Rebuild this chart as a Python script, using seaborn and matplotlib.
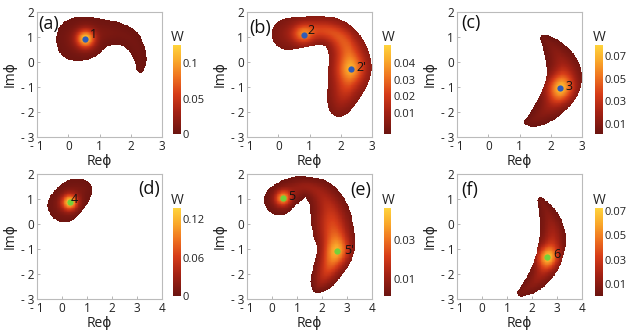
import numpy as np
import matplotlib
matplotlib.use("Agg")
import matplotlib.pyplot as plt
import seaborn as sns
from matplotlib.colors import LinearSegmentedColormap
from matplotlib.transforms import Affine2D

sns.set_style("white")
plt.rcParams['font.family'] = ['Open Sans', 'DejaVu Sans']

# ---------------- data ----------------
panel_tags = ["(a)", "(b)", "(c)", "(d)", "(e)", "(f)"]

# ridge (centre line) of each distribution: x, y, half width, ridge value
a_sx = [0.30, 0.55, 1.00, 1.56, 2.00, 2.25, 2.33, 2.30]
a_sy = [0.90, 0.95, 1.15, 1.18, 0.95, 0.45, 0.00, -0.28]
a_sw = [0.70, 0.68, 0.47, 0.35, 0.31, 0.25, 0.20, 0.13]
a_sv = [0.010, 0.014, 0.010, 0.006, 0.005, 0.004, 0.003, 0.003]
a_px, a_py, a_pa, a_ps = [0.55], [0.93], [0.105], [0.20]

b_sx = [0.30, 0.80, 1.40, 1.90, 2.20, 2.30, 2.30, 2.20, 2.05, 1.95]
b_sy = [1.12, 1.20, 1.30, 1.10, 0.60, 0.00, -0.35, -0.90, -1.40, -1.75]
b_sw = [0.50, 0.50, 0.45, 0.50, 0.60, 0.68, 0.70, 0.60, 0.50, 0.35]
b_sv = [0.005, 0.016, 0.022, 0.025, 0.027, 0.028, 0.028, 0.022, 0.012, 0.006]
b_px, b_py, b_pa, b_ps = [0.80, 2.32], [1.10, -0.27], [0.020, 0.014], [0.22, 0.28]

c_sx = [1.78, 2.05, 2.35, 2.45, 2.38, 2.15, 1.80, 1.45, 1.25]
c_sy = [0.95, 0.60, 0.00, -0.50, -1.00, -1.50, -2.00, -2.35, -2.40]
c_sw = [0.12, 0.30, 0.50, 0.57, 0.58, 0.50, 0.38, 0.22, 0.10]
c_sv = [0.004, 0.007, 0.015, 0.025, 0.032, 0.020, 0.010, 0.005, 0.003]
c_px, c_py, c_pa, c_ps = [2.30], [-1.05], [0.042], [0.30]

d_sx = [0.10, 0.45, 0.80]
d_sy = [0.75, 1.15, 1.35]
d_sw = [0.68, 0.68, 0.42]
d_sv = [0.012, 0.012, 0.008]
d_px, d_py, d_pa, d_ps = [0.31], [0.87], [0.120], [0.22]

e_sx = [0.30, 0.80, 1.40, 2.00, 2.30, 2.40, 2.55, 2.55, 2.30, 2.00, 1.80]
e_sy = [0.97, 1.35, 1.55, 1.20, 0.60, 0.00, -0.70, -1.10, -1.70, -2.25, -2.55]
e_sw = [0.62, 0.55, 0.35, 0.60, 0.75, 0.85, 0.78, 0.75, 0.62, 0.48, 0.20]
e_sv = [0.005, 0.008, 0.009, 0.011, 0.016, 0.022, 0.028, 0.030, 0.024, 0.012, 0.005]
e_px, e_py, e_pa, e_ps = [0.44, 2.61], [1.03, -1.08], [0.030, 0.010], [0.22, 0.35]

f_sx = [2.35, 2.70, 2.85, 2.75, 2.45, 2.00, 1.55]
f_sy = [0.95, 0.30, -0.40, -1.20, -1.90, -2.45, -2.75]
f_sw = [0.12, 0.40, 0.52, 0.55, 0.48, 0.35, 0.15]
f_sv = [0.004, 0.008, 0.018, 0.028, 0.018, 0.008, 0.004]
f_px, f_py, f_pa, f_ps = [2.61], [-1.33], [0.040], [0.30]

# marked points and their labels
a_mx, a_my, a_ml = [0.55], [0.92], ["1"]
b_mx, b_my, b_ml = [0.81, 2.34], [1.08, -0.27], ["2", "2'"]
c_mx, c_my, c_ml = [2.31], [-1.04], ["3"]
d_mx, d_my, d_ml = [0.31], [0.87], ["4"]
e_mx, e_my, e_ml = [0.44, 2.61], [1.03, -1.08], ["5", "5'"]
f_mx, f_my, f_ml = [2.61], [-1.33], ["6"]

# colour scale ranges and colour-bar ticks
vmins = [0.0, -0.0025, 0.001, 0.0, 0.0013, 0.0]
vmaxs = [0.126, 0.0507, 0.080, 0.138, 0.0463, 0.0725]
cbar_ticks = [[0, 0.05, 0.1], [0.01, 0.02, 0.03, 0.04], [0.01, 0.03, 0.05, 0.07],
              [0, 0.06, 0.12], [0.01, 0.03], [0.01, 0.03, 0.05, 0.07]]
cbar_labels = [["0", "0.05", "0.1"], ["0.01", "0.02", "0.03", "0.04"],
               ["0.01", "0.03", "0.05", "0.07"], ["0", "0.06", "0.12"],
               ["0.01", "0.03"], ["0.01", "0.03", "0.05", "0.07"]]

top_xticks = [-1, 0, 1, 2, 3]
top_xlabels = ["- 1", "0", "1", "2", "3"]
bot_xticks = [-1, 0, 1, 2, 3, 4]
bot_xlabels = ["- 1", "0", "1", "2", "3", "4"]
yticks = [-3, -2, -1, 0, 1, 2]
ylabels = ["- 3", "- 2", "- 1", "0", "1", "2"]

# ---------------- helpers ----------------
def corner_cut(cols, iters=3):
    """Chaikin corner cutting of the centre line (endpoints kept) for smooth outlines."""
    P = np.column_stack(cols)
    for _ in range(iters):
        if len(P) < 3:
            break
        q = 0.75 * P[:-1] + 0.25 * P[1:]
        r = 0.25 * P[:-1] + 0.75 * P[1:]
        mid = np.empty((2 * len(q), P.shape[1]))
        mid[0::2] = q
        mid[1::2] = r
        P = np.vstack([P[:1], mid, P[-1:]])
    return [P[:, j] for j in range(P.shape[1])]


def build_field(xmin, xmax, ymin, ymax, step, yscale, sx, sy, sw, sv, px, py, pa, ps):
    nx = int(round((xmax - xmin) / step))
    ny = int(round((ymax - ymin) / step))
    xc = xmin + (np.arange(nx) + 0.5) * step
    yc = ymax - (np.arange(ny) + 0.5) * step
    X, Y = np.meshgrid(xc, yc)
    Ys = Y * yscale
    sx, sys_, sw, sv = corner_cut([np.asarray(sx, float), np.asarray(sy, float) * yscale,
                                   np.asarray(sw, float), np.asarray(sv, float)])
    inside = np.zeros(X.shape, bool)
    ridge = np.zeros(X.shape)
    for k in range(len(sx) - 1):
        x0, y0, x1, y1 = sx[k], sys_[k], sx[k + 1], sys_[k + 1]
        dx, dy = x1 - x0, y1 - y0
        L2 = max(dx * dx + dy * dy, 1e-9)
        t = np.clip(((X - x0) * dx + (Ys - y0) * dy) / L2, 0, 1)
        d = np.hypot(X - x0 - t * dx, Ys - y0 - t * dy)
        w = sw[k] + (sw[k + 1] - sw[k]) * t
        v = sv[k] + (sv[k + 1] - sv[k]) * t
        ins = d < w
        inside |= ins
        ridge = np.maximum(ridge, np.where(ins, v * np.exp(-2.0 * (d / w) ** 2), 0))
    peaks = np.zeros(X.shape)
    for x_, y_, a_, s_ in zip(px, py, pa, ps):
        peaks += a_ * np.exp(-((X - x_) ** 2 + (Ys - y_ * yscale) ** 2) / (2 * s_ ** 2))
    W = 0.001 + ridge + peaks
    return W, ~inside


cmap = LinearSegmentedColormap.from_list(
    "wig", [(0.0, "#6a1410"), (0.25, "#a52214"), (0.45, "#d63c18"),
            (0.65, "#ef7420"), (0.82, "#f9a72a"), (1.0, "#ffd43c")])

fig = plt.figure(figsize=(6.26, 3.34), dpi=100)
W_, H_ = 626.0, 334.0

spines = [(a_sx, a_sy, a_sw, a_sv, a_px, a_py, a_pa, a_ps),
          (b_sx, b_sy, b_sw, b_sv, b_px, b_py, b_pa, b_ps),
          (c_sx, c_sy, c_sw, c_sv, c_px, c_py, c_pa, c_ps),
          (d_sx, d_sy, d_sw, d_sv, d_px, d_py, d_pa, d_ps),
          (e_sx, e_sy, e_sw, e_sv, e_px, e_py, e_pa, e_ps),
          (f_sx, f_sy, f_sw, f_sv, f_px, f_py, f_pa, f_ps)]
marks = [(a_mx, a_my, a_ml), (b_mx, b_my, b_ml), (c_mx, c_my, c_ml),
         (d_mx, d_my, d_ml), (e_mx, e_my, e_ml), (f_mx, f_my, f_ml)]

# layout (pixels)
ax_left = [37, 247, 457]
cb_left = [173, 384, 595]
row_top = [12, 174]
cb_top = [45, 208]
cb_bot = [134, 296]
tag_pos = [(0.01, 0.90, "left"), (0.02, 0.87, "left"), (0.03, 0.91, "left"),
           (0.98, 0.88, "right"), (0.99, 0.87, "right"), (0.03, 0.87, "left")]
label_offsets = {"1": (3, 3), "2": (3, 3), "2'": (4, 1), "3": (4, 1), "4": (1, 2),
                 "5": (4, 1), "5'": (5, 0), "6": (4, 2)}

step = 1.0 / 32
for i in range(6):
    row, col = divmod(i, 3)
    xmin, xmax = (-1, 3) if row == 0 else (-1, 4)
    ymin, ymax = -3, 2
    yscale = (1 / (ymax - ymin)) / (1 / (xmax - xmin))
    Wf, mask = build_field(xmin, xmax, ymin, ymax, step, yscale, *spines[i])

    ax = fig.add_axes([ax_left[col] / W_, 1 - (row_top[row] + 125) / H_, 125 / W_, 125 / H_])
    cax = fig.add_axes([cb_left[col] / W_, 1 - cb_bot[row] / H_, 7.5 / W_,
                        (cb_bot[row] - cb_top[row]) / H_])
    sns.heatmap(Wf, mask=mask, cmap=cmap, vmin=vmins[i], vmax=vmaxs[i], ax=ax,
                cbar_ax=cax, cbar_kws={"ticks": cbar_ticks[i]},
                xticklabels=False, yticklabels=False, linewidths=0, rasterized=True)

    # axes in data units
    xt = [(t - xmin) / step for t in (top_xticks if row == 0 else bot_xticks)]
    ax.set_xticks(xt)
    ax.set_xticklabels(top_xlabels if row == 0 else bot_xlabels, rotation=0)
    ax.set_yticks([(ymax - t) / step for t in yticks])
    ax.set_yticklabels(ylabels, rotation=0)
    ax.tick_params(axis="both", direction="in", length=2.5, width=0.6, color="#aaaaaa",
                   labelsize=8.5, pad=2, labelcolor="#222222", left=True, bottom=True)
    for sp in ax.spines.values():
        sp.set_visible(True)
        sp.set_color("#bbbbbb")
        sp.set_linewidth(0.8)
    ax.set_xlabel("Reϕ", fontsize=10, labelpad=1, color="#222222")
    ax.set_ylabel("Imϕ", fontsize=10, labelpad=2, color="#222222")

    tx, ty, tha = tag_pos[i]
    ax.text(tx, ty, panel_tags[i], transform=ax.transAxes, fontsize=13, ha=tha,
            va="center", color="#111111")

    data_tr = Affine2D().translate(-xmin, -ymax).scale(1 / step, -1 / step) + ax.transData
    mcol = "#2f5cb8" if row == 0 else "#74d13a"
    mx, my, ml = marks[i]
    ax.plot(mx, my, "o", ms=4.5, color=mcol, mec="none", transform=data_tr)
    for x_, y_, l_ in zip(mx, my, ml):
        off = label_offsets[l_]
        ax.annotate(l_, (x_, y_), xycoords=data_tr, xytext=off, textcoords="offset points",
                    fontsize=9, ha="left", va="center", color="#111111")

    cax.set_yticklabels(cbar_labels[i])
    cax.tick_params(length=0, labelsize=8, pad=1.5, labelcolor="#222222")
    cax.set_title("W", fontsize=10, pad=3, color="#222222")

fig.savefig("out.png", dpi=100)
